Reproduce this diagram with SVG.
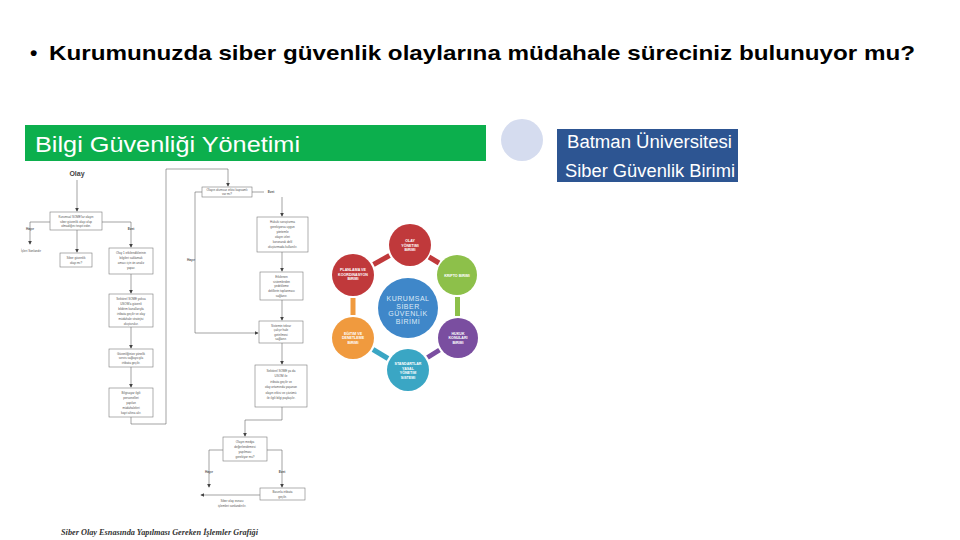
<svg xmlns="http://www.w3.org/2000/svg" width="960" height="540" viewBox="0 0 960 540">
<defs>
<style>
.title{font-family:"Liberation Sans",Arial,sans-serif;font-weight:bold;font-size:21px;fill:#000}
.box{fill:#fff;stroke:#7a7a7a;stroke-width:0.6}
.ft{font-family:"Liberation Sans",Arial,sans-serif;font-size:3px;fill:#555;text-anchor:middle}
.fl{font-family:"Liberation Sans",Arial,sans-serif;font-size:3.2px;fill:#555;text-anchor:middle;font-weight:bold}
.con{fill:none;stroke:#666;stroke-width:0.6}
.ct{font-family:"Liberation Sans",Arial,sans-serif;font-size:3.6px;fill:#fff;font-weight:bold;text-anchor:middle}
.ring{stroke-width:5;stroke-linecap:butt}
</style>
<marker id="ah" viewBox="0 0 6 6" refX="5" refY="3" markerWidth="4" markerHeight="4" orient="auto" markerUnits="userSpaceOnUse">
<path d="M0,0 L6,3 L0,6 z" fill="#444"/>
</marker>
</defs>
<rect width="960" height="540" fill="#fff"/>

<g id="title">
<text x="30" y="60" class="title">•</text>
<text x="49" y="60" class="title" textLength="866" lengthAdjust="spacingAndGlyphs">Kurumunuzda siber güvenlik olaylarına müdahale süreciniz bulunuyor mu?</text>
</g>

<g id="header-green">
<rect x="25" y="125" width="461" height="36" fill="#0caf4d"/>
<text x="35" y="152" font-family="Liberation Sans, Arial, sans-serif" font-size="22" fill="#fff" textLength="265" lengthAdjust="spacingAndGlyphs">Bilgi Güvenliği Yönetimi</text>
</g>

<g id="dot">
<circle cx="522" cy="140" r="21" fill="#d5dcef"/>
</g>

<g id="unit-label">
<rect x="557" y="129" width="181" height="53" fill="#2d5592"/>
<text x="567" y="148" font-family="Liberation Sans, Arial, sans-serif" font-size="18" fill="#fff" textLength="165" lengthAdjust="spacingAndGlyphs">Batman Üniversitesi</text>
<text x="565" y="177" font-family="Liberation Sans, Arial, sans-serif" font-size="18" fill="#fff" textLength="170" lengthAdjust="spacingAndGlyphs">Siber Güvenlik Birimi</text>
</g>

<!-- Flowchart connectors -->
<g id="flow-connectors">
<path class="con" d="M77,180 L77,211" marker-end="url(#ah)"/>
<path class="con" d="M50,222 L30,222 L30,244" marker-end="url(#ah)"/>
<path class="con" d="M77,230 L77,252" marker-end="url(#ah)"/>
<path class="con" d="M102,222 L131,222 L131,247" marker-end="url(#ah)"/>
<path class="con" d="M131,274 L131,293" marker-end="url(#ah)"/>
<path class="con" d="M131,327 L131,348" marker-end="url(#ah)"/>
<path class="con" d="M131,367 L131,387" marker-end="url(#ah)"/>
<path class="con" d="M131,417 L131,424 L166,424 L166,169 L228,169 L228,186" marker-end="url(#ah)"/>
<path class="con" d="M202,192 L195,192 L195,333 L258,333" marker-end="url(#ah)"/>
<path class="con" d="M252,192 L264,192"/>
<path class="con" d="M282,197 L282,216" marker-end="url(#ah)"/>
<path class="con" d="M282,252 L282,271" marker-end="url(#ah)"/>
<path class="con" d="M282,300 L282,320" marker-end="url(#ah)"/>
<path class="con" d="M282,343 L282,364" marker-end="url(#ah)"/>
<path class="con" d="M282,407 L282,420 L245,420 L245,436" marker-end="url(#ah)"/>
<path class="con" d="M223,450 L209,450 L209,487" marker-end="url(#ah)"/>
<path class="con" d="M267,450 L282,450 L282,487" marker-end="url(#ah)"/>
<path class="con" d="M260,495 L201,495" marker-end="url(#ah)"/>
<text x="30" y="230" class="fl">Hayır</text>
<text x="131" y="230" class="fl">Evet</text>
<text x="271" y="193" class="fl">Evet</text>
<text x="191" y="261" class="fl">Hayır</text>
<text x="209" y="473" class="fl">Hayır</text>
<text x="282" y="473" class="fl">Evet</text>
</g>

<g id="f-olay">
<text x="77" y="176" font-family="Liberation Sans, Arial, sans-serif" font-size="7" font-weight="bold" fill="#444" text-anchor="middle">Olay</text>
</g>
<g id="f-tespit">
<rect class="box" x="50" y="212" width="52" height="18"/>
<text class="ft" x="76" y="218">Kurumsal SOME'lar olayın</text>
<text class="ft" x="76" y="222.5">siber güvenlik olayı olup</text>
<text class="ft" x="76" y="227">olmadığını tespit eder.</text>
</g>
<g id="f-sonlandir">
<text class="ft" x="31" y="252">İşleri Sonlandır</text>
</g>
<g id="f-olaymi">
<rect class="box" x="60" y="253" width="32" height="14"/>
<text class="ft" x="76" y="259">Siber güvenlik</text>
<text class="ft" x="76" y="263.5">olayı mı?</text>
</g>
<g id="f-onanaliz">
<rect class="box" x="109" y="248" width="44" height="26"/>
<text class="ft" x="131" y="254">Olay 1 etkilendiklerinin</text>
<text class="ft" x="131" y="259">bilgileri saklamak</text>
<text class="ft" x="131" y="264">amacı için ön analiz</text>
<text class="ft" x="131" y="269">yapar.</text>
</g>
<g id="f-usom">
<rect class="box" x="109" y="294" width="44" height="33"/>
<text class="ft" x="131" y="299.5">Sektörel SOME yoksa</text>
<text class="ft" x="131" y="304.5">USOM'a güvenli</text>
<text class="ft" x="131" y="309.5">bildirim kanallarıyla</text>
<text class="ft" x="131" y="314.5">irtibata geçilir ve olay</text>
<text class="ft" x="131" y="319.5">müdahale stratejisi</text>
<text class="ft" x="131" y="324.5">oluşturulur.</text>
</g>
<g id="f-servis">
<rect class="box" x="109" y="349" width="44" height="18"/>
<text class="ft" x="131" y="354.5">Güvenliğinize yönelik</text>
<text class="ft" x="131" y="359">servis sağlayıcıyla</text>
<text class="ft" x="131" y="364">irtibata geçilir.</text>
</g>
<g id="f-personel">
<rect class="box" x="109" y="388" width="44" height="29"/>
<text class="ft" x="131" y="393.5">Bilgisayar ilgili</text>
<text class="ft" x="131" y="398.5">personelleri</text>
<text class="ft" x="131" y="403.5">yapılan</text>
<text class="ft" x="131" y="408.5">müdahaleleri</text>
<text class="ft" x="131" y="413.5">kayıt altına alır.</text>
</g>
<g id="f-etki">
<rect class="box" x="202" y="187" width="50" height="10"/>
<text class="ft" x="227" y="191">Olayın olumsuz etkisi kapsamlı</text>
<text class="ft" x="227" y="195">var mı?</text>
</g>
<g id="f-hukuk">
<rect class="box" x="257" y="217" width="51" height="35"/>
<text class="ft" x="282.5" y="222.5">Hukuki soruşturma</text>
<text class="ft" x="282.5" y="227.5">gerekiyorsa uygun</text>
<text class="ft" x="282.5" y="232.5">yöntemle</text>
<text class="ft" x="282.5" y="237.5">olayın izleri</text>
<text class="ft" x="282.5" y="242.5">korunarak delil</text>
<text class="ft" x="282.5" y="247.5">oluşturmada kullanılır.</text>
</g>
<g id="f-delil">
<rect class="box" x="260" y="272" width="43" height="28"/>
<text class="ft" x="281.5" y="277.5">Etkilenen</text>
<text class="ft" x="281.5" y="282.5">sistemlerden</text>
<text class="ft" x="281.5" y="287">yedekleme</text>
<text class="ft" x="281.5" y="291.5">delillerin toplanması</text>
<text class="ft" x="281.5" y="296.5">sağlanır.</text>
</g>
<g id="f-sistem">
<rect class="box" x="259" y="321" width="44" height="22"/>
<text class="ft" x="281" y="326.5">Sistemin tekrar</text>
<text class="ft" x="281" y="331">çalışır hale</text>
<text class="ft" x="281" y="335.5">getirilmesi</text>
<text class="ft" x="281" y="340">sağlanır.</text>
</g>
<g id="f-paylas">
<rect class="box" x="255" y="365" width="52" height="42"/>
<text class="ft" x="281" y="372">Sektörel SOME ya da</text>
<text class="ft" x="281" y="377">USOM ile</text>
<text class="ft" x="281" y="382.5">irtibata geçilir ve</text>
<text class="ft" x="281" y="388">olay ortamında yaşanan</text>
<text class="ft" x="281" y="393.5">olayın etkisi ve çözümü</text>
<text class="ft" x="281" y="399">ile ilgili bilgi paylaşılır.</text>
</g>
<g id="f-medya">
<rect class="box" x="223" y="437" width="44" height="24"/>
<text class="ft" x="245" y="442.5">Olayın medya</text>
<text class="ft" x="245" y="447.5">değerlendirmesi</text>
<text class="ft" x="245" y="452.5">yapılması</text>
<text class="ft" x="245" y="457.5">gerekiyor mu?</text>
</g>
<g id="f-basin">
<rect class="box" x="260" y="488" width="45" height="12"/>
<text class="ft" x="282.5" y="493">Basınla irtibata</text>
<text class="ft" x="282.5" y="497.5">geçilir.</text>
</g>
<g id="f-son">
<text class="ft" x="232" y="502">Siber olay esnası</text>
<text class="ft" x="232" y="506.5">işlemleri sonlandırılır.</text>
</g>
<g id="caption">
<text x="61" y="535" font-family="Liberation Serif, serif" font-style="italic" font-weight="bold" font-size="8" fill="#333" textLength="197" lengthAdjust="spacingAndGlyphs">Siber Olay Esnasında Yapılması Gereken İşlemler Grafiği</text>
</g>

<!-- Circle diagram -->
<g id="ring-connectors">
<line class="ring" x1="429" y1="257" x2="439" y2="263" stroke="#c0393b"/>
<line class="ring" x1="457.5" y1="297" x2="457.5" y2="316" stroke="#8dc04a"/>
<line class="ring" x1="439.5" y1="350" x2="427.5" y2="357.5" stroke="#7a4ea0"/>
<line class="ring" x1="388" y1="358.5" x2="373" y2="349.5" stroke="#3aa6c4"/>
<line class="ring" x1="353" y1="315" x2="353" y2="298" stroke="#f09a3e"/>
<line class="ring" x1="373.5" y1="264.5" x2="389.5" y2="255.5" stroke="#c0393b"/>
</g>
<g id="c-center">
<circle cx="408" cy="308" r="30" fill="#3f87c9"/>
<text x="408" y="301" font-family="Liberation Sans, Arial, sans-serif" font-size="7" fill="#dde9f6" text-anchor="middle" letter-spacing="0.5">KURUMSAL</text>
<text x="408" y="308.5" font-family="Liberation Sans, Arial, sans-serif" font-size="7" fill="#dde9f6" text-anchor="middle" letter-spacing="0.5">SİBER</text>
<text x="408" y="316" font-family="Liberation Sans, Arial, sans-serif" font-size="7" fill="#dde9f6" text-anchor="middle" letter-spacing="0.5">GÜVENLİK</text>
<text x="408" y="323.5" font-family="Liberation Sans, Arial, sans-serif" font-size="7" fill="#dde9f6" text-anchor="middle" letter-spacing="0.5">BİRİMİ</text>
</g>
<g id="c-olay">
<circle cx="410" cy="245" r="21" fill="#c0393b"/>
<text class="ct" x="410" y="242">OLAY</text>
<text class="ct" x="410" y="246.5">YÖNETİMİ</text>
<text class="ct" x="410" y="251">BİRİMİ</text>
</g>
<g id="c-kripto">
<circle cx="457" cy="275" r="20" fill="#8dc04a"/>
<text class="ct" x="457" y="276.5">KRİPTO BİRİMİ</text>
</g>
<g id="c-hukuk">
<circle cx="458" cy="338" r="20" fill="#7a4ea0"/>
<text class="ct" x="458" y="334.5">HUKUK</text>
<text class="ct" x="458" y="339">KONULARI</text>
<text class="ct" x="458" y="343.5">BİRİMİ</text>
</g>
<g id="c-standart">
<circle cx="408" cy="370" r="21" fill="#3aa6c4"/>
<text class="ct" x="408" y="365">STANDARTLAR</text>
<text class="ct" x="408" y="369.5">YASAL</text>
<text class="ct" x="408" y="374">YÖNETİM</text>
<text class="ct" x="408" y="378.5">SİSTEMİ</text>
</g>
<g id="c-egitim">
<circle cx="353" cy="338" r="21" fill="#f09a3e"/>
<text class="ct" x="353" y="334.5">EĞİTİM VE</text>
<text class="ct" x="353" y="339">DENETLEME</text>
<text class="ct" x="353" y="343.5">BİRİMİ</text>
</g>
<g id="c-planlama">
<circle cx="353" cy="275" r="21" fill="#c0393b"/>
<text class="ct" x="353" y="271">PLANLAMA VE</text>
<text class="ct" x="353" y="275.5">KOORDİNASYON</text>
<text class="ct" x="353" y="280">BİRİMİ</text>
</g>
</svg>
